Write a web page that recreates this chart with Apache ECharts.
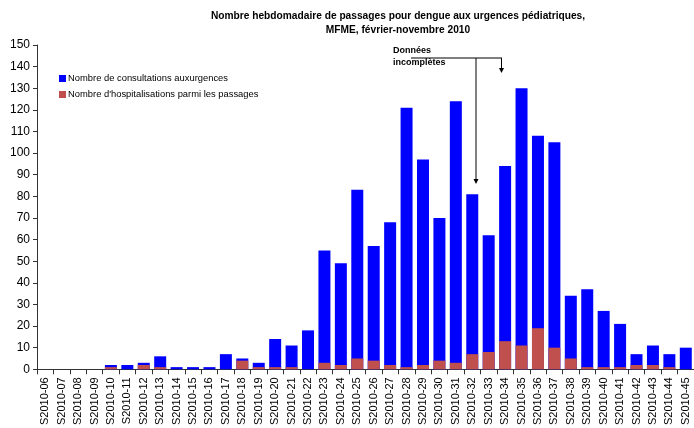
<!DOCTYPE html>
<html>
<head>
<meta charset="utf-8">
<script src="https://cdn.jsdelivr.net/npm/echarts@6/dist/echarts.min.js"></script>
<style>
  html, body { margin: 0; padding: 0; background: #fff; }
  #chart { width: 694px; height: 428px; }
</style>
</head>
<body>
<div id="chart"></div>
<script>
// semaines
const weeks = [];
for (let w = 6; w <= 45; w++) weeks.push('S2010-' + (w < 10 ? '0' + w : w));

// Nombre de consultations aux urgences
const consultations = [0, 0, 0, 0, 2, 2, 3, 6, 1, 1, 1, 7, 5, 3, 14, 11, 18, 55, 49, 83,
  57, 68, 121, 97, 70, 124, 81, 62, 94, 130, 108, 105, 34, 37, 27, 21, 7, 11, 7, 10];

// Nombre d'hospitalisations parmi les passages
const hospitalisations = [0, 0, 0, 0, 1, 0, 2, 1, 0, 0, 0, 0, 4, 1, 1, 1, 0, 3, 2, 5,
  4, 2, 1, 2, 4, 3, 7, 8, 13, 11, 19, 10, 5, 1, 1, 1, 2, 2, 1, 0];

const font = 'Liberation Sans, Arial, sans-serif';
const chart = echarts.init(document.getElementById('chart'));

const option = {
  animation: false,
  backgroundColor: '#fff',
  title: {
    text: 'Nombre hebdomadaire de passages pour dengue aux urgences pédiatriques,\nMFME, février-novembre 2010',
    left: 393,
    top: 4,
    textAlign: 'center',
    textStyle: { fontFamily: font, fontSize: 10.2, fontWeight: 'bold', color: '#000', lineHeight: 14 }
  },
  legend: {
    orient: 'vertical',
    left: 59,
    top: 74,
    padding: 0,
    itemWidth: 7,
    itemHeight: 7,
    itemGap: 7,
    icon: 'rect',
    textStyle: { fontFamily: font, fontSize: 9.4, color: '#000', padding: [0, 0, 0, -3] },
    data: ['Nombre de consultations auxurgences', "Nombre d'hospitalisations parmi les passages"]
  },
  grid: { left: 37, right: 0, top: 45, bottom: 58 },
  xAxis: {
    type: 'category',
    data: weeks,
    axisLine: { lineStyle: { color: '#333', width: 1 } },
    axisTick: { show: true, length: 5, lineStyle: { color: '#333' } },
    axisLabel: { rotate: 90, interval: 0, fontFamily: font, fontSize: 11, color: '#000', margin: 8 }
  },
  yAxis: {
    type: 'value',
    min: 0,
    max: 150,
    interval: 10,
    splitLine: { show: false },
    axisLine: { show: true, lineStyle: { color: '#333', width: 1 } },
    axisTick: { show: true, length: 4, lineStyle: { color: '#333' } },
    axisLabel: { fontFamily: font, fontSize: 12, color: '#000', margin: 7 }
  },
  series: [
    {
      name: 'Nombre de consultations auxurgences',
      type: 'bar',
      data: consultations,
      barWidth: '73%',
      barGap: '-100%',
      itemStyle: { color: '#0000FF' }
    },
    {
      name: "Nombre d'hospitalisations parmi les passages",
      type: 'bar',
      data: hospitalisations,
      barWidth: '73%',
      barGap: '-100%',
      itemStyle: { color: '#C0504D' }
    }
  ],
  graphic: [
    { type: 'text', left: 393, top: 45, style: { text: 'Données\nincomplètes', font: 'bold 9px ' + font, fill: '#000', lineHeight: 12 } },
    { type: 'polyline', shape: { points: [[411, 58], [502, 58]] }, style: { stroke: '#000', lineWidth: 1 } },
    { type: 'line', shape: { x1: 476, y1: 58, x2: 476, y2: 180 }, style: { stroke: '#000', lineWidth: 1 } },
    { type: 'polygon', shape: { points: [[473.5, 179], [478.5, 179], [476, 184]] }, style: { fill: '#000' } },
    { type: 'line', shape: { x1: 501.5, y1: 58, x2: 501.5, y2: 69 }, style: { stroke: '#000', lineWidth: 1 } },
    { type: 'polygon', shape: { points: [[499, 68], [504, 68], [501.5, 73]] }, style: { fill: '#000' } }
  ]
};

chart.setOption(option);
</script>
</body>
</html>
